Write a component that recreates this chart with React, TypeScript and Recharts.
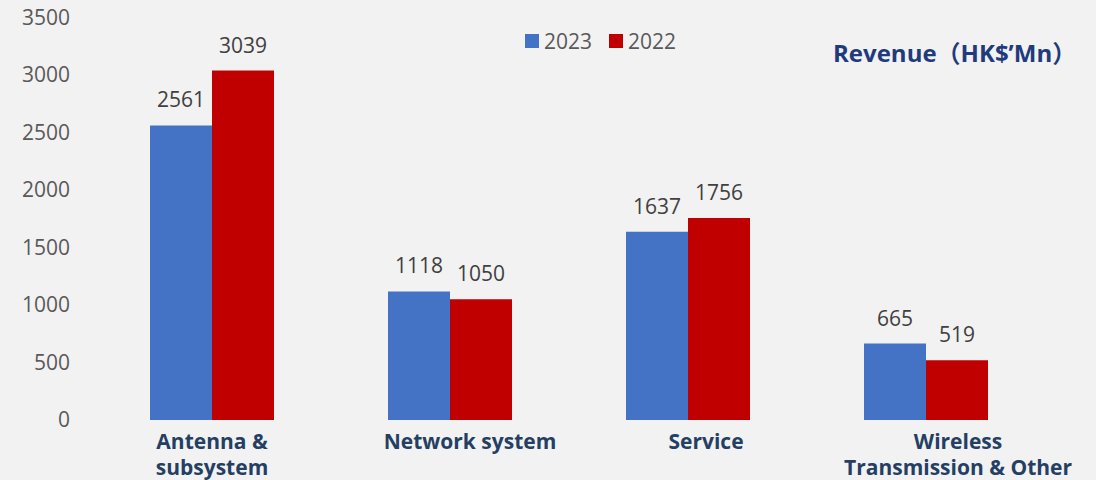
import { Bar, BarChart, LabelList, XAxis, YAxis } from "recharts";

const CATEGORIES = ["Antenna & subsystem", "Network system", "Service", "Wireless Transmission & Other"];
const CATEGORY_LINES = [["Antenna &", "subsystem"], ["Network system"], ["Service"], ["Wireless", "Transmission & Other"]];
const REVENUE_2023 = [2561, 1118, 1637, 665];
const REVENUE_2022 = [3039, 1050, 1756, 519];
const Y_TICKS = [0, 500, 1000, 1500, 2000, 2500, 3000, 3500];
const SERIES = [
  { key: "y2023", label: "2023" },
  { key: "y2022", label: "2022" },
];

const BLUE = "#4472c4";
const RED = "#c00000";
const NAVY = "#243f63";
const FONT = "'Open Sans', 'Noto Sans CJK SC', sans-serif";
const SERIES_COLORS: Record<string, string> = { y2023: BLUE, y2022: RED };

// label nudges, the source labels aren't quite centred under the bars
const TICK_DX = [0, 20, 18, 32];

const data = CATEGORIES.map((name, i) => ({
  name,
  y2023: REVENUE_2023[i],
  y2022: REVENUE_2022[i],
}));

function CategoryTick({ x, y, index }: any) {
  const lines = CATEGORY_LINES[index] ?? [];
  return (
    <g transform={`translate(${x + (TICK_DX[index] ?? 0)},${y})`}>
      {lines.map((line, i) => (
        <text
          key={i}
          x={0}
          y={29 + i * 26}
          textAnchor="middle"
          fill={NAVY}
          fontSize={21}
          fontWeight={700}
          fontFamily={FONT}
        >
          {line}
        </text>
      ))}
    </g>
  );
}

function LegendBox() {
  return (
    <div
      style={{
        position: "absolute",
        left: 525,
        top: 29,
        display: "flex",
        alignItems: "center",
      }}
    >
      {SERIES.map((s) => (
        <div key={s.key} style={{ display: "flex", alignItems: "center", marginRight: 17 }}>
          <span
            style={{ width: 14, height: 14, background: SERIES_COLORS[s.key], display: "inline-block", marginRight: 5 }}
          />
          <span style={{ fontSize: 21, color: "#595959", lineHeight: "24px" }}>{s.label}</span>
        </div>
      ))}
    </div>
  );
}

export default function App() {
  return (
    <div
      style={{
        position: "fixed",
        left: 0,
        top: 0,
        width: 1096,
        height: 480,
        background: "#f2f2f2",
        fontFamily: FONT,
      }}
    >
      <BarChart
        width={1096}
        height={480}
        data={data}
        margin={{ top: 17.5, right: 51, bottom: 0, left: 0 }}
        barCategoryGap={57}
        barGap={0}
      >
        <XAxis
          dataKey="name"
          axisLine={false}
          tickLine={false}
          tickSize={0}
          tickMargin={0}
          height={60}
          interval={0}
          tick={<CategoryTick />}
        />
        <YAxis
          domain={[0, 3500]}
          ticks={Y_TICKS}
          axisLine={false}
          tickLine={false}
          tickSize={0}
          tickMargin={23}
          width={93}
          tick={{ fill: "#595959", fontSize: 21, fontFamily: FONT }}
        />
        {SERIES.map((s) => (
          <Bar key={s.key} dataKey={s.key} name={s.label} fill={SERIES_COLORS[s.key]} isAnimationActive={false}>
            <LabelList dataKey={s.key} position="top" offset={18} fill="#404040" fontSize={21} fontFamily={FONT} />
          </Bar>
        ))}
      </BarChart>
      <LegendBox />
      <div
        style={{
          position: "absolute",
          left: 833,
          top: 38,
          fontSize: 24,
          fontWeight: 700,
          color: "#1f3b7c",
          whiteSpace: "nowrap",
          lineHeight: "30px",
        }}
      >
        Revenue（HK$’Mn）
      </div>
    </div>
  );
}
